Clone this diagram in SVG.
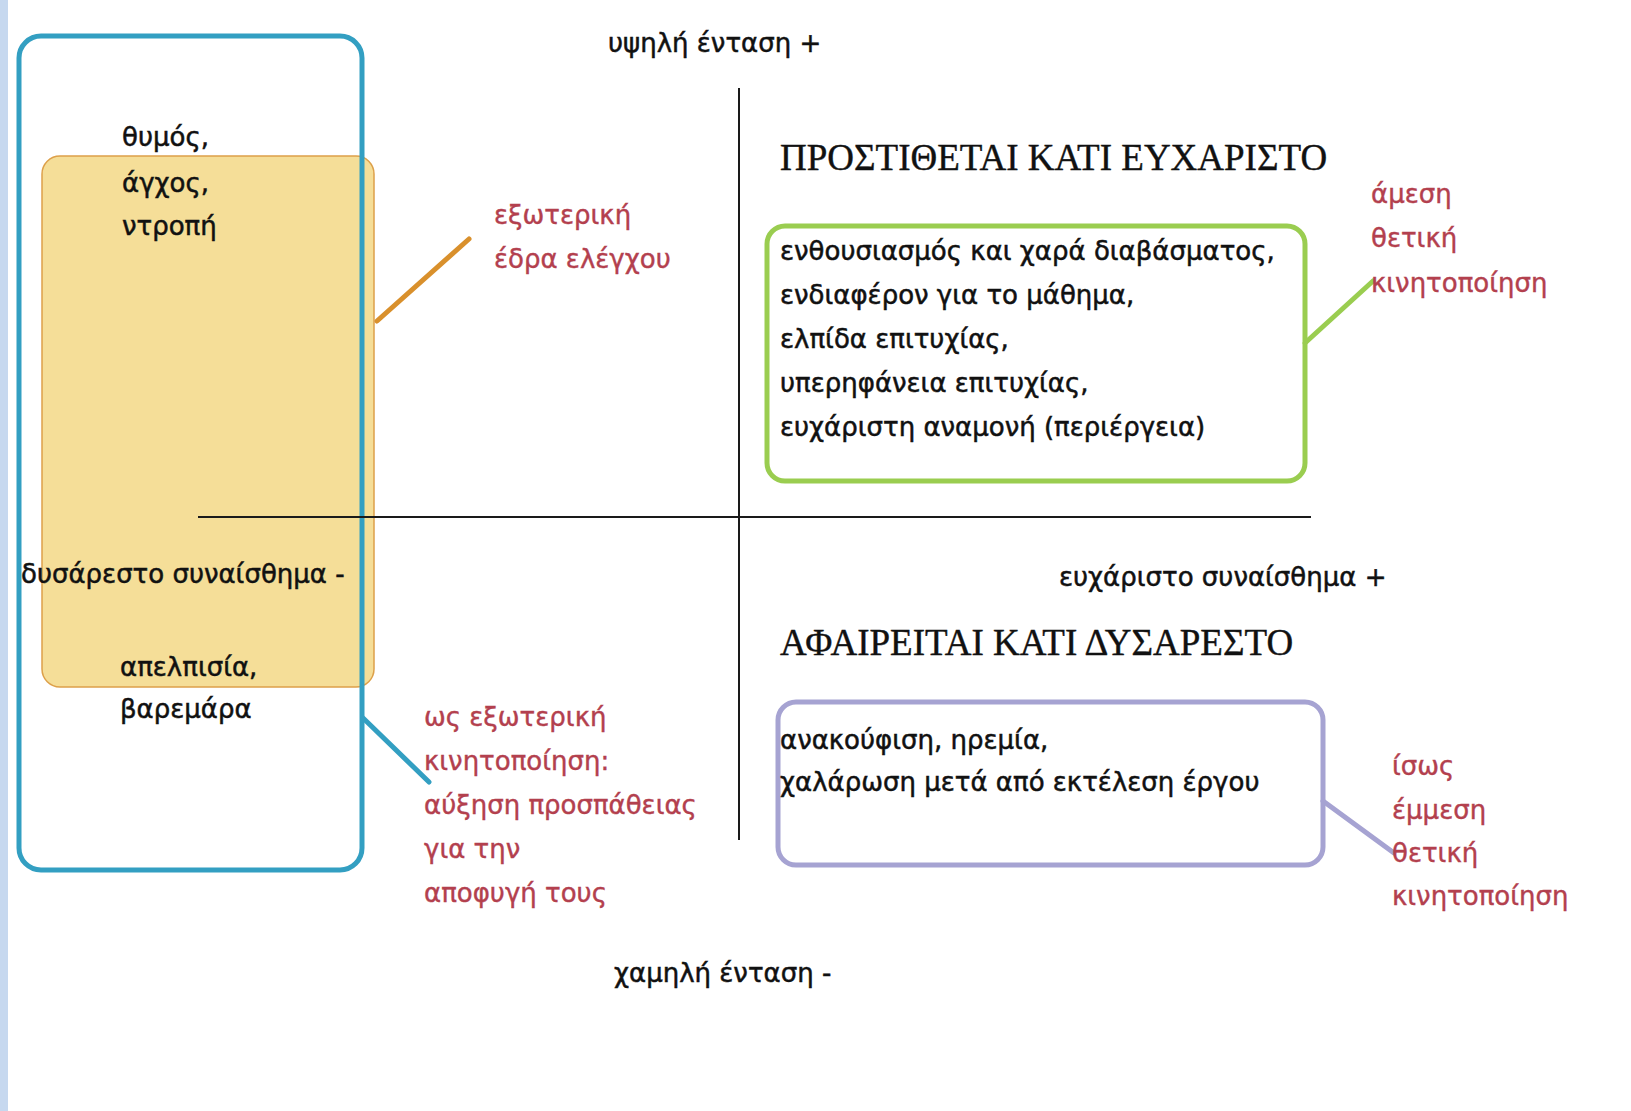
<svg xmlns="http://www.w3.org/2000/svg" width="1631" height="1111" viewBox="0 0 1631 1111">
<style>
.t{font-family:"DejaVu Sans","Noto Sans",sans-serif;font-size:26px;fill:#111111;stroke:#111111;stroke-width:0.5}
.r{font-family:"DejaVu Sans","Noto Sans",sans-serif;font-size:26px;fill:#b3404e;stroke:#b3404e;stroke-width:0.4}
.h{font-family:"Liberation Serif","DejaVu Serif",serif;font-size:37px;fill:#111111;stroke:#111111;stroke-width:0.4}
.ax{stroke:#1a1a1a;stroke-width:2;fill:none}
</style>
<rect x="0" y="0" width="1631" height="1111" fill="#ffffff"/>
<rect x="0" y="0" width="8" height="1111" fill="#c6d8ef"/>
<g id="orange-box">
<rect x="42" y="156" width="332" height="531" rx="18" fill="#f5de98" stroke="#dda04a" stroke-width="1.5"/>
</g>
<g id="blue-box">
<rect x="19" y="36" width="343" height="834" rx="22" fill="none" stroke="#339fc2" stroke-width="5"/>
</g>
<g id="axes">
<line class="ax" x1="198" y1="517" x2="1311" y2="517"/>
<line class="ax" x1="739" y1="88" x2="739" y2="840"/>
</g>
<g id="connectors" stroke-linecap="round">
<line x1="377" y1="321" x2="469" y2="239" stroke="#d9902c" stroke-width="5"/>
<line x1="363" y1="718" x2="429" y2="782" stroke="#339fc2" stroke-width="5"/>
<line x1="1305" y1="343" x2="1373" y2="281" stroke="#9acd50" stroke-width="5"/>
<line x1="1323" y1="801" x2="1394" y2="853" stroke="#a6a3d2" stroke-width="5"/>
</g>
<g id="green-box">
<rect x="767" y="226" width="538" height="255" rx="18" fill="none" stroke="#9acd50" stroke-width="5"/>
<text class="t" x="780" y="260">ενθουσιασμός και χαρά διαβάσματος,</text>
<text class="t" x="780" y="304">ενδιαφέρον για το μάθημα,</text>
<text class="t" x="780" y="348">ελπίδα επιτυχίας,</text>
<text class="t" x="780" y="392">υπερηφάνεια επιτυχίας,</text>
<text class="t" x="780" y="436">ευχάριστη αναμονή (περιέργεια)</text>
</g>
<g id="purple-box">
<rect x="778" y="702" width="545" height="163" rx="18" fill="none" stroke="#a6a3d2" stroke-width="5"/>
<text class="t" x="780" y="749">ανακούφιση, ηρεμία,</text>
<text class="t" x="780" y="791">χαλάρωση μετά από εκτέλεση έργου</text>
</g>
<g id="left-emotions-top">
<text class="t" x="122" y="146">θυμός,</text>
<text class="t" x="122" y="192">άγχος,</text>
<text class="t" x="122" y="235">ντροπή</text>
</g>
<g id="left-emotions-bottom">
<text class="t" x="120" y="676">απελπισία,</text>
<text class="t" x="120" y="718">βαρεμάρα</text>
</g>
<g id="axis-labels">
<text class="t" x="608" y="52">υψηλή ένταση +</text>
<text class="t" x="614" y="982">χαμηλή ένταση -</text>
<text class="t" x="21" y="583">δυσάρεστο συναίσθημα -</text>
<text class="t" x="1059" y="586">ευχάριστο συναίσθημα +</text>
</g>
<g id="headings">
<text class="h" x="780" y="170">ΠΡΟΣΤΙΘΕΤΑΙ ΚΑΤΙ ΕΥΧΑΡΙΣΤΟ</text>
<text class="h" x="780" y="655">ΑΦΑΙΡΕΙΤΑΙ ΚΑΤΙ ΔΥΣΑΡΕΣΤΟ</text>
</g>
<g id="label-external-locus">
<text class="r" x="494" y="224">εξωτερική</text>
<text class="r" x="494" y="268">έδρα ελέγχου</text>
</g>
<g id="label-direct-positive">
<text class="r" x="1371" y="203">άμεση</text>
<text class="r" x="1371" y="247">θετική</text>
<text class="r" x="1371" y="292">κινητοποίηση</text>
</g>
<g id="label-external-motivation">
<text class="r" x="424" y="726">ως εξωτερική</text>
<text class="r" x="424" y="770">κινητοποίηση:</text>
<text class="r" x="424" y="814">αύξηση προσπάθειας</text>
<text class="r" x="424" y="858">για την</text>
<text class="r" x="424" y="902">αποφυγή τους</text>
</g>
<g id="label-indirect-positive">
<text class="r" x="1392" y="775">ίσως</text>
<text class="r" x="1392" y="819">έμμεση</text>
<text class="r" x="1392" y="862">θετική</text>
<text class="r" x="1392" y="905">κινητοποίηση</text>
</g>
</svg>
